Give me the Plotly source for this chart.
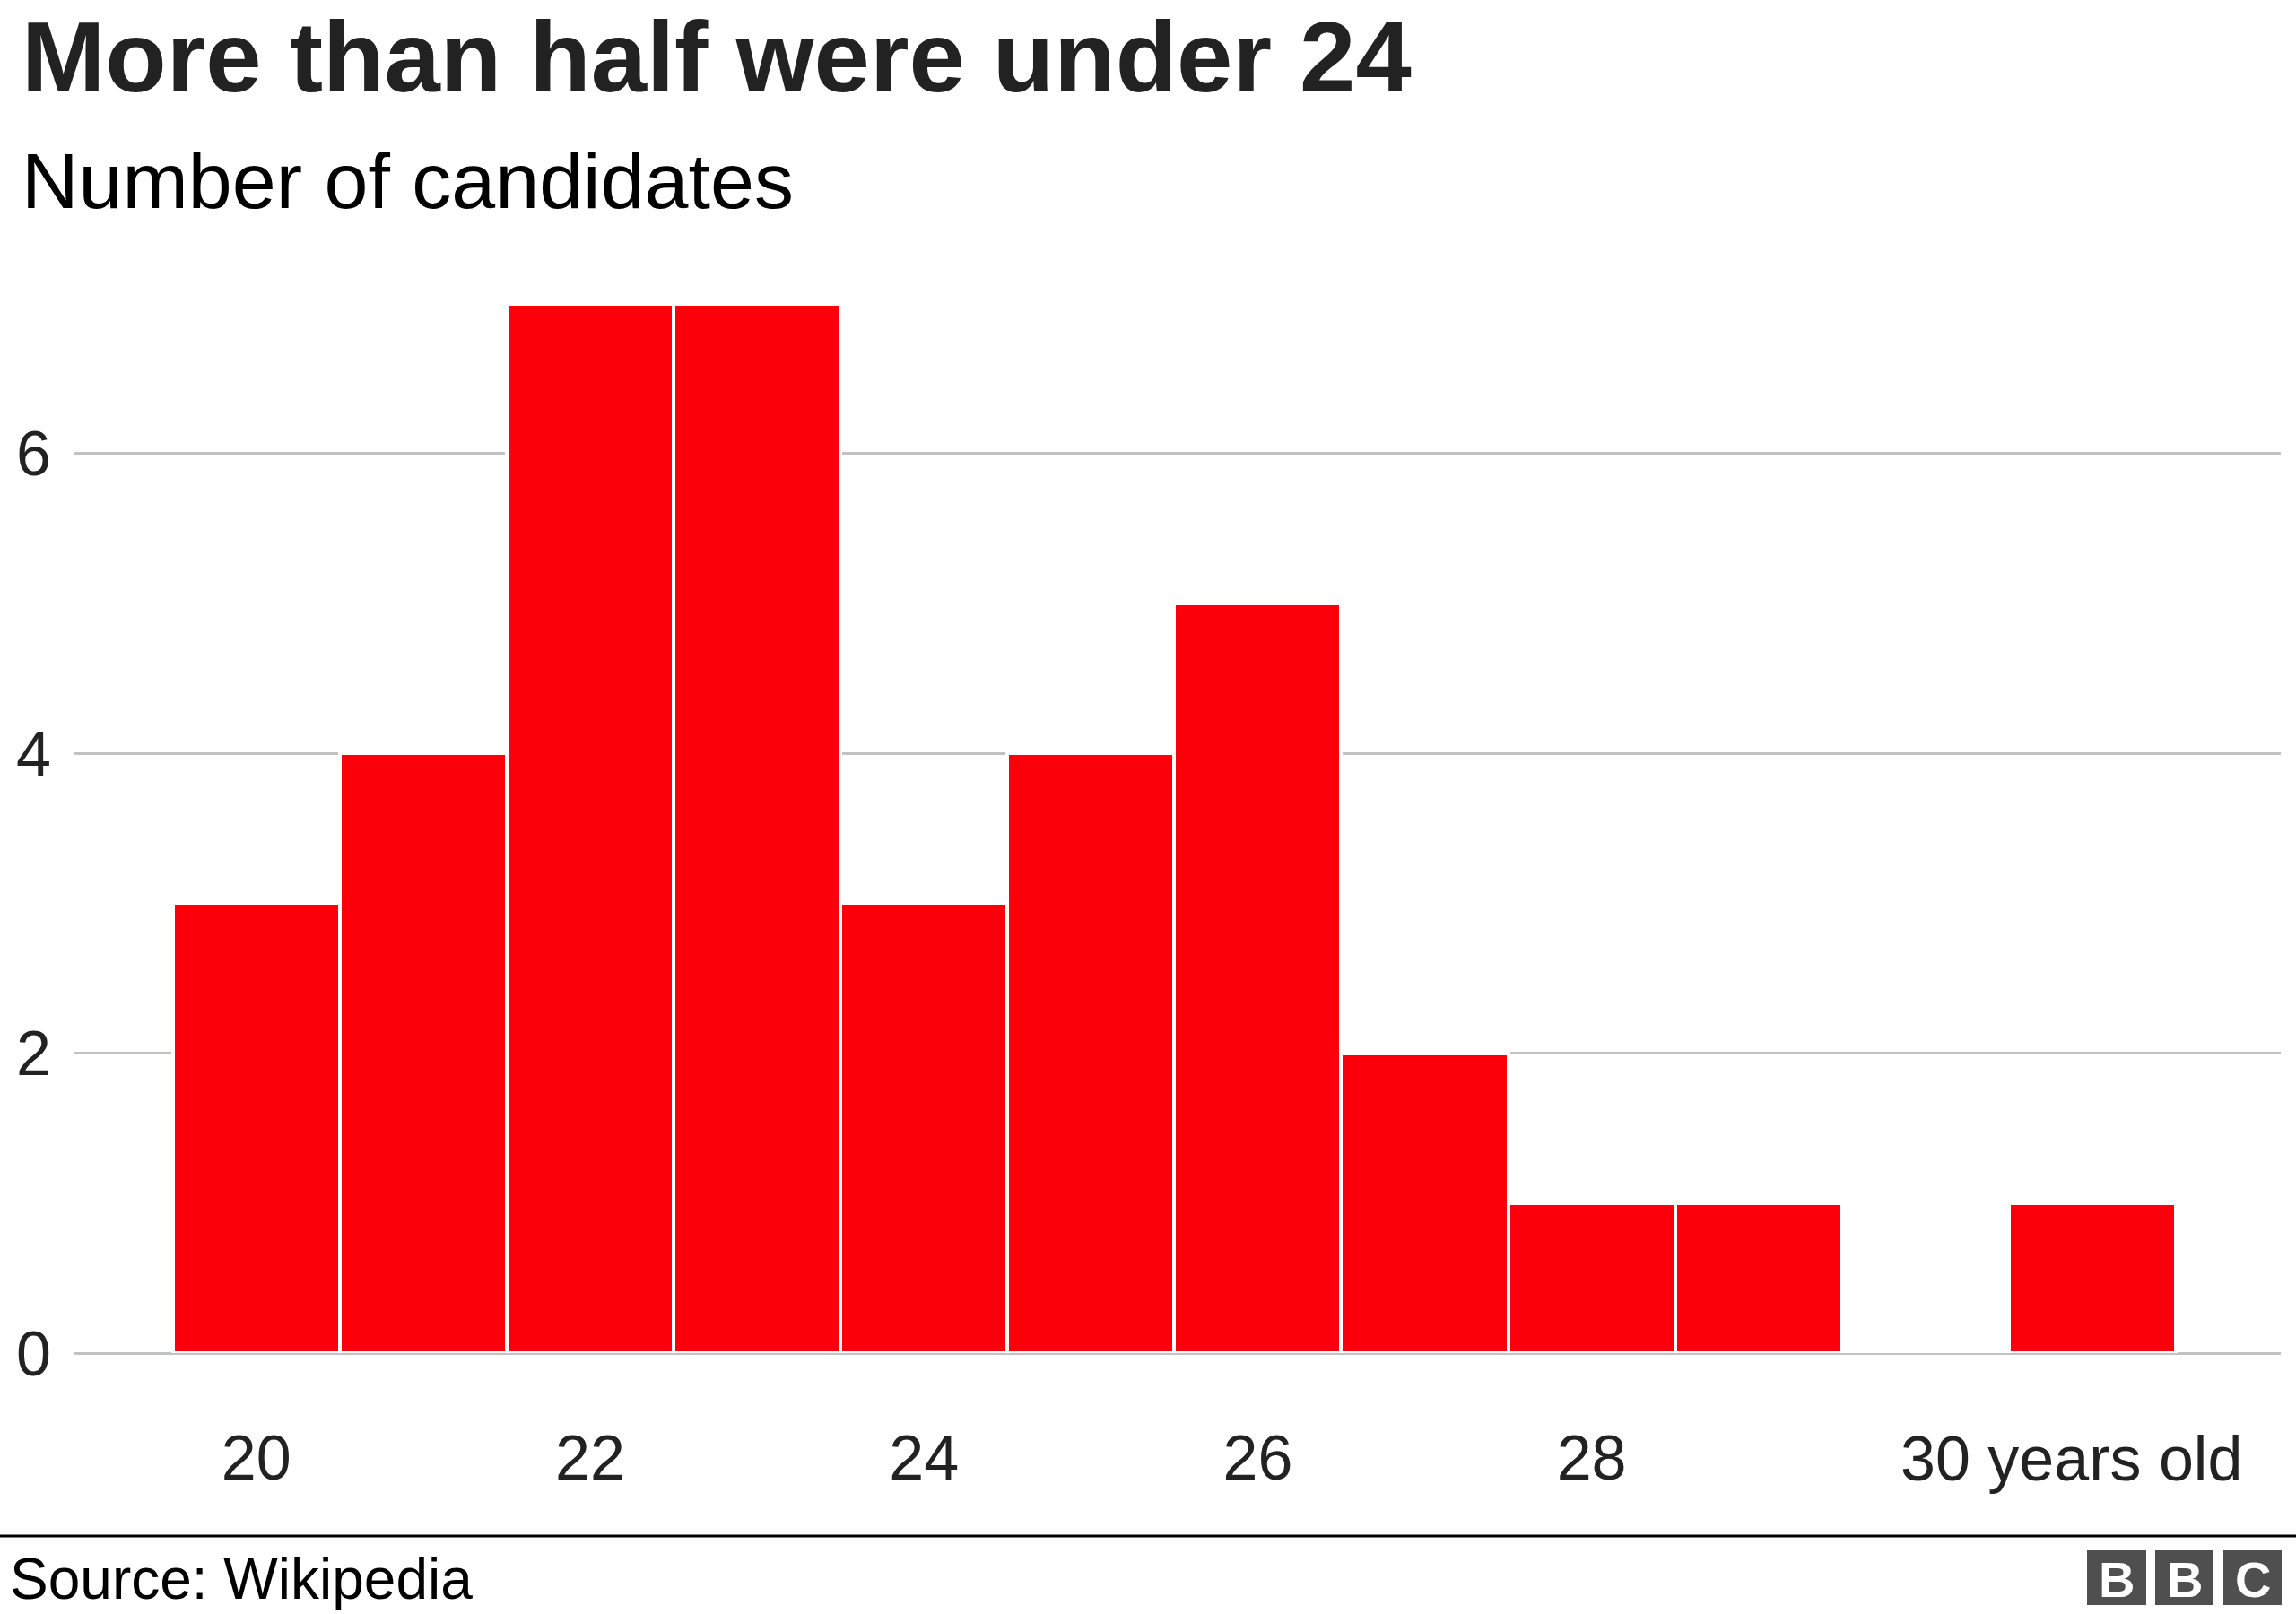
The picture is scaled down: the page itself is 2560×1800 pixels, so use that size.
import plotly.graph_objects as go

# ---- data ----
ages = [20, 21, 22, 23, 24, 25, 26, 27, 28, 29, 30, 31]
candidates = [3, 4, 7, 7, 3, 4, 5, 2, 1, 1, 0, 1]
x_tick_vals = [20, 22, 24, 26, 28]
x_tick_text = ["20", "22", "24", "26", "28"]
last_label_age = 30
last_label_text = "30 years old"
y_tick_vals = [0, 2, 4, 6]
y_tick_text = ["0", "2", "4", "6"]

title_text = "More than half were under 24"
subtitle_text = "Number of candidates"
source_text = "Source: Wikipedia"

W, H = 2560, 1800
ML, MR, MT, MB = 82, 17, 300, 291
PW, PH = W - ML - MR, H - MT - MB
FONT = "Liberation Sans, Arial, Helvetica, sans-serif"
RED = "#FB000A"
GRID = "#c2c2c2"

fig = go.Figure()
fig.add_trace(go.Bar(
    x=ages, y=candidates,
    marker=dict(color=RED, line=dict(color="white", width=4)),
    hoverinfo="x+y",
))

def py(px):
    # figure pixel (from top) -> paper y (relative to plot area)
    return (H - MB - px) / PH

def pxx(px):
    return (px - ML) / PW

annotations = [
    dict(text=f"<b>{title_text}</b>", x=pxx(22), y=py(63), xref="paper", yref="paper",
         xanchor="left", yanchor="middle", showarrow=False,
         font=dict(family=FONT, size=112, color="#222222")),
    dict(text=subtitle_text, x=pxx(22), y=py(202), xref="paper", yref="paper",
         xanchor="left", yanchor="middle", showarrow=False,
         font=dict(family=FONT, size=88, color="#000000")),
    dict(text=source_text, x=pxx(9), y=py(1761), xref="paper", yref="paper",
         xanchor="left", yanchor="middle", showarrow=False,
         font=dict(family=FONT, size=64, color="#000000")),
    dict(text=last_label_text, x=last_label_age, xref="x", y=py(1627), yref="paper",
         xanchor="left", yanchor="middle", xshift=-30, showarrow=False,
         font=dict(family=FONT, size=70, color="#222222")),
]

shapes = [
    dict(type="line", xref="paper", yref="paper", x0=pxx(0), x1=pxx(W), y0=py(1713), y1=py(1713),
         line=dict(color="#000000", width=3)),
]

# BBC logo blocks
blocks = [(2327, 2393, "B"), (2403, 2468, "B"), (2479, 2544, "C")]
for x0, x1, letter in blocks:
    shapes.append(dict(type="rect", xref="paper", yref="paper",
                       x0=pxx(x0), x1=pxx(x1), y0=py(1790), y1=py(1729),
                       fillcolor="#4f4f4f", line=dict(width=0)))
    annotations.append(dict(text=f"<b>{letter}</b>", x=pxx((x0 + x1) / 2), y=py(1761),
                            xref="paper", yref="paper", xanchor="center", yanchor="middle",
                            showarrow=False,
                            font=dict(family=FONT, size=56, color="white")))

fig.update_layout(
    width=W, height=H,
    paper_bgcolor="white", plot_bgcolor="white",
    margin=dict(l=ML, r=MR, t=MT, b=MB, autoexpand=False),
    bargap=0,
    showlegend=False,
    annotations=annotations,
    shapes=shapes,
    font=dict(family=FONT, color="#222222"),
)

fig.update_xaxes(
    range=[18.905, 32.129],
    tickvals=x_tick_vals, ticktext=x_tick_text,
    tickfont=dict(family=FONT, size=70, color="#222222"),
    showgrid=False, zeroline=False, showline=False,
    ticks="", ticklabelstandoff=70,
)
fig.update_yaxes(
    range=[0, 7.232],
    tickvals=y_tick_vals, ticktext=y_tick_text,
    tickfont=dict(family=FONT, size=70, color="#222222"),
    showgrid=True, gridcolor=GRID, gridwidth=3,
    zeroline=True, zerolinecolor=GRID, zerolinewidth=3,
    showline=False,
    ticks="", ticklabelstandoff=24,
)

fig.write_html(
    "out.html",
    config={"displayModeBar": False},
    post_script="document.body.style.margin='0';document.body.style.padding='0';",
)
